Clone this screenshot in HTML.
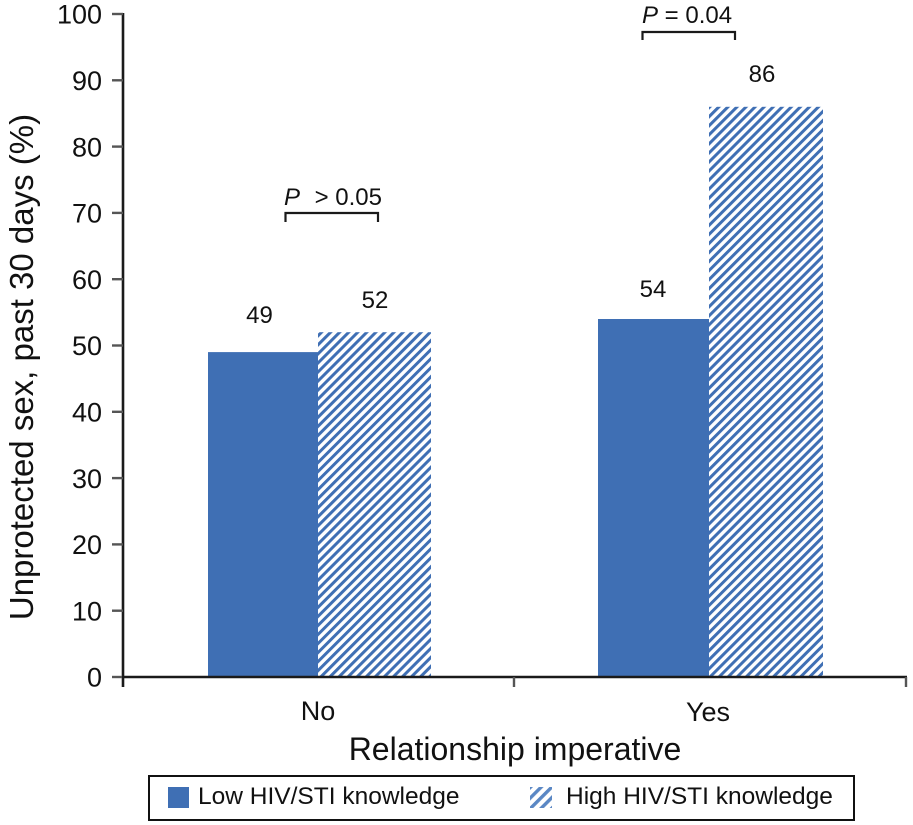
<!DOCTYPE html>
<html>
<head>
<meta charset="utf-8">
<style>
  html, body { margin: 0; padding: 0; background: #ffffff; }
  svg { display: block; }
  text { font-family: "Liberation Sans", Arial, sans-serif; fill: #111; }
</style>
</head>
<body>
<svg width="913" height="825" viewBox="0 0 913 825" xmlns="http://www.w3.org/2000/svg">
  <defs>
    <pattern id="hatch" patternUnits="userSpaceOnUse" width="6.4" height="6.4" patternTransform="rotate(45)">
      <rect x="0" y="0" width="6.4" height="6.4" fill="#ffffff"/>
      <rect x="0" y="0" width="3.0" height="6.4" fill="#3f6fb4"/>
    </pattern>
    <pattern id="hatchLeg" patternUnits="userSpaceOnUse" width="7.5" height="7.5" patternTransform="rotate(45)">
      <rect x="0" y="0" width="7.5" height="7.5" fill="#ffffff"/>
      <rect x="0" y="0" width="3.4" height="7.5" fill="#5a87c4"/>
    </pattern>
  </defs>

  <!-- Bars -->
  <rect x="208" y="352.1" width="110" height="324.9" fill="#3f6fb4"/>
  <rect x="318" y="332.2" width="113" height="344.8" fill="url(#hatch)"/>
  <rect x="598" y="319" width="111" height="358" fill="#3f6fb4"/>
  <rect x="709" y="106.8" width="114" height="570.2" fill="url(#hatch)"/>

  <!-- Y axis -->
  <line x1="123" y1="13" x2="123" y2="687" stroke="#1a1a1a" stroke-width="2.6"/>
  <g stroke="#555" stroke-width="2.4">
    <line x1="112" y1="14" x2="123" y2="14"/>
    <line x1="112" y1="80.3" x2="123" y2="80.3"/>
    <line x1="112" y1="146.6" x2="123" y2="146.6"/>
    <line x1="112" y1="212.9" x2="123" y2="212.9"/>
    <line x1="112" y1="279.2" x2="123" y2="279.2"/>
    <line x1="112" y1="345.5" x2="123" y2="345.5"/>
    <line x1="112" y1="411.8" x2="123" y2="411.8"/>
    <line x1="112" y1="478.1" x2="123" y2="478.1"/>
    <line x1="112" y1="544.4" x2="123" y2="544.4"/>
    <line x1="112" y1="610.7" x2="123" y2="610.7"/>
    <line x1="112" y1="677" x2="123" y2="677"/>
  </g>
  <g font-size="27" text-anchor="end">
    <text x="102" y="23.7">100</text>
    <text x="102" y="90">90</text>
    <text x="102" y="156.3">80</text>
    <text x="102" y="222.6">70</text>
    <text x="102" y="288.9">60</text>
    <text x="102" y="355.2">50</text>
    <text x="102" y="421.5">40</text>
    <text x="102" y="487.8">30</text>
    <text x="102" y="554.1">20</text>
    <text x="102" y="620.4">10</text>
    <text x="102" y="686.7">0</text>
  </g>

  <!-- X axis -->
  <line x1="122" y1="677" x2="907" y2="677" stroke="#1a1a1a" stroke-width="2.6"/>
  <g stroke="#555" stroke-width="2.4">
    <line x1="514" y1="677" x2="514" y2="687"/>
    <line x1="906" y1="677" x2="906" y2="687"/>
  </g>
  <g font-size="27" text-anchor="middle">
    <text x="318" y="720">No</text>
    <text x="708" y="721">Yes</text>
  </g>
  <text x="515" y="760" font-size="32" text-anchor="middle">Relationship imperative</text>

  <!-- Y title -->
  <text transform="translate(33,367) rotate(-90)" font-size="33" text-anchor="middle">Unprotected sex, past 30 days (%)</text>

  <!-- Value labels -->
  <g font-size="24" text-anchor="middle">
    <text x="259.5" y="323">49</text>
    <text x="375" y="308">52</text>
    <text x="653" y="297">54</text>
    <text x="762" y="82">86</text>
  </g>

  <!-- Significance brackets -->
  <g fill="none" stroke="#1a1a1a" stroke-width="2.2">
    <polyline points="285.5,222 285.5,213 378,213 378,222"/>
    <polyline points="642.5,40 642.5,32 735,32 735,40"/>
  </g>
  <text x="284" y="205" font-size="24" font-style="italic">P</text>
  <text x="382" y="205" font-size="24" text-anchor="end">&gt; 0.05</text>
  <text x="642" y="23" font-size="24"><tspan font-style="italic">P</tspan> = 0.04</text>

  <!-- Legend -->
  <rect x="149" y="776" width="705" height="44" fill="#ffffff" stroke="#111" stroke-width="2"/>
  <rect x="168" y="787" width="21" height="21" fill="#3f6fb4"/>
  <text x="198" y="804" font-size="24.5">Low HIV/STI knowledge</text>
  <rect x="530" y="787" width="22" height="21" fill="url(#hatchLeg)"/>
  <text x="566" y="804" font-size="24.5">High HIV/STI knowledge</text>
</svg>
</body>
</html>
